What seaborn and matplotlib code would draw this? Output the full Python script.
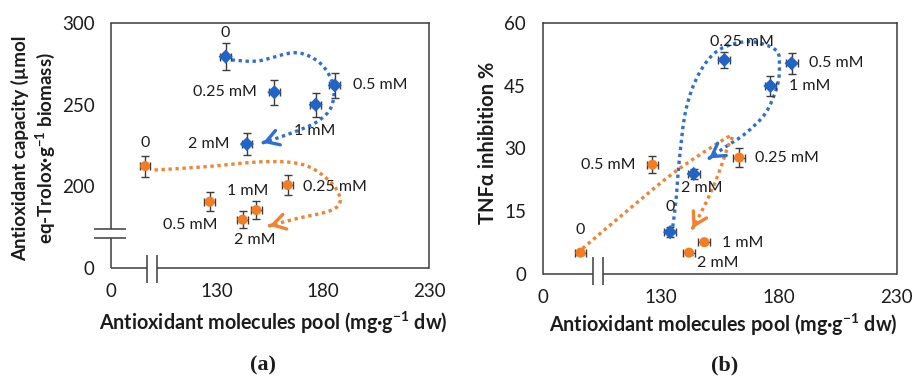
import numpy as np
import pandas as pd
import matplotlib
matplotlib.use("Agg")
import matplotlib.pyplot as plt
import seaborn as sns
from matplotlib.path import Path
from matplotlib.patches import PathPatch

# ---------------- data ----------------
concentrations = ["0", "0.25 mM", "0.5 mM", "1 mM", "2 mM"]
pool_blue = [134.0, 157.0, 185.5, 176.5, 144.0]
pool_orange = [96.0, 163.3, 126.5, 148.5, 142.0]
pool_err_blue = [2.5, 2.5, 2.5, 2.5, 2.5]
pool_err_orange = [2.5, 2.5, 2.5, 2.5, 2.5]
capacity_blue = [279.4, 257.6, 261.8, 250.0, 225.9]
capacity_orange = [212.4, 200.8, 190.6, 185.5, 179.6]
capacity_err_blue = [8.3, 7.8, 7.9, 7.3, 6.8]
capacity_err_orange = [6.4, 5.9, 5.8, 5.4, 5.4]
tnf_blue = [10.0, 51.1, 50.3, 44.9, 23.9]
tnf_orange = [5.1, 27.8, 26.1, 7.6, 5.1]
tnf_err_blue = [1.2, 2.0, 2.5, 2.3, 1.1]
tnf_err_orange = [0.5, 2.3, 2.1, 0.5, 0.5]

x_ticks = [80, 130, 180, 230]
x_tick_labels = ["0", "130", "180", "230"]
cap_ticks = [150, 200, 250, 300]
cap_tick_labels = ["0", "200", "250", "300"]
tnf_ticks = [0, 15, 30, 45, 60]
tnf_tick_labels = ["0", "15", "30", "45", "60"]

# ---------------- styling / layout ----------------
BLUE = "#2264C6"
ORANGE = "#F47C22"
BLUE_LINE = "#2E6FD6"
ORANGE_LINE = "#F5822E"
DARK = "#3c3c3c"
TXT = "#1c1c1c"
FONT = "Lato"

sns.set_theme(style="white")
plt.rcParams["font.family"] = [FONT, "DejaVu Sans"]
plt.rcParams["mathtext.fontset"] = "custom"
plt.rcParams["mathtext.rm"] = FONT
plt.rcParams["mathtext.bf"] = FONT + ":bold"

# label offsets (pixels) per panel
offs_a_blue = [(0, 24), (-49, 0), (45, 0), (-1, -26), (-38, 0)]
offs_a_orange = [(0, 23), (47, -2), (-20, -23), (-9, 19), (12, -20)]
offs_b_blue = [(0, 25), (18, 18), (45, 0), (39, 0), (8, -14)]
offs_b_orange = [(0, 23), (48, 0), (-44, 0), (38, -1), (29, -10)]

# dotted guide curves (annotation paths, data coords)
curve_a_blue = [(136.8, 277.4), (149.3, 276.8), (167.1, 281.8), (178.7, 275.3), (184.7, 262.1),
                (183.9, 248.8), (177.2, 239.6), (164.8, 232.5), (151.6, 226.7)]
curve_a_orange = [(100.4, 210.0), (124.4, 212.0), (152.4, 215.1), (171.0, 213.1), (183.4, 202.8),
                  (188.1, 191.6), (183.4, 185.1), (167.9, 180.4), (154.7, 175.9)]
curve_b_blue = [(135.1, 11.3), (136.5, 17.7), (137.9, 27.2), (140.7, 39.2), (146.3, 47.9), (154.7, 53.5),
                (167.4, 55.5), (178.7, 53.5), (180.3, 49.5), (179.3, 44.7), (174.4, 38.4), (166.0, 33.6),
                (157.6, 30.4), (150.5, 27.6)]
curve_b_orange = [(96.9, 6.1), (115.4, 14.9), (135.1, 24.0), (151.9, 30.4), (160.1, 33.0), (158.2, 30.0),
                  (154.0, 23.2), (148.4, 16.1), (143.5, 10.9)]


def draw_curve(ax, pts, color):
    P = np.asarray(pts, dtype=float)
    n = len(P)
    verts = [P[0]]
    codes = [Path.MOVETO]
    last_c2 = None
    for i in range(n - 1):
        p0 = P[i - 1] if i > 0 else P[i]
        p1, p2 = P[i], P[i + 1]
        p3 = P[i + 2] if i + 2 < n else P[i + 1]
        c1 = p1 + (p2 - p0) / 6.0
        c2 = p2 - (p3 - p1) / 6.0
        verts += [c1, c2, p2]
        codes += [Path.CURVE4] * 3
        last_c2 = c2
    ax.add_patch(PathPatch(Path(verts, codes), fill=False, edgecolor=color, lw=2.4,
                           linestyle=(0, (1, 1.1)), capstyle="butt", zorder=1.5))
    end = P[-1]
    start = end - (end - last_c2) * 0.04
    ax.annotate("", xy=end, xytext=start,
                arrowprops=dict(arrowstyle="->,head_length=0.75,head_width=0.45", color=color,
                                lw=2.4, shrinkA=0, shrinkB=0, mutation_scale=12), zorder=1.6)


def draw_panel(ax, yb, yo, yeb, yeo, offs_b, offs_o):
    df = pd.DataFrame({
        "pool": pool_blue + pool_orange,
        "value": yb + yo,
        "series": ["blue"] * len(pool_blue) + ["orange"] * len(pool_orange),
    })
    ax.errorbar(pool_blue, yb, xerr=pool_err_blue, yerr=yeb, fmt="none", ecolor=DARK,
                elinewidth=1.0, capsize=3.2, capthick=1.0, zorder=2)
    ax.errorbar(pool_orange, yo, xerr=pool_err_orange, yerr=yeo, fmt="none", ecolor=DARK,
                elinewidth=1.0, capsize=3.2, capthick=1.0, zorder=2)
    sns.scatterplot(data=df, x="pool", y="value", hue="series", style="series",
                    palette={"blue": BLUE, "orange": ORANGE},
                    markers={"blue": "D", "orange": "o"}, s=52, linewidth=0,
                    legend=False, ax=ax, zorder=3)
    for x, y, lab, (dx, dy) in zip(pool_blue, yb, concentrations, offs_b):
        ax.annotate(lab, xy=(x, y), xytext=(dx, dy), textcoords="offset pixels",
                    ha="center", va="center", fontsize=11.5, color=TXT, zorder=4)
    for x, y, lab, (dx, dy) in zip(pool_orange, yo, concentrations, offs_o):
        ax.annotate(lab, xy=(x, y), xytext=(dx, dy), textcoords="offset pixels",
                    ha="center", va="center", fontsize=11.5, color=TXT, zorder=4)
    ax.set_xlim(80, 230)
    ax.set_xticks(x_ticks)
    ax.set_xticklabels(x_tick_labels)
    ax.tick_params(axis="both", direction="in", length=3.5, width=1.0, color=DARK,
                   labelsize=13.5, labelcolor=TXT)
    ax.tick_params(axis="x", pad=11)
    ax.tick_params(axis="y", pad=12)
    for sp in ax.spines.values():
        sp.set_color(DARK)
        sp.set_linewidth(1.1)
    ax.set_xlabel("Antioxidant molecules pool (mg·g$^{\\mathbf{-1}}$ dw)", fontsize=14.2,
                  fontweight="bold", color=TXT, va="center")


def seg(ax, xs, ys):
    ax.plot(xs, ys, transform=ax.transAxes, color=DARK, lw=1.1, clip_on=False,
            solid_capstyle="butt", zorder=5)


fig = plt.figure(figsize=(9.13, 3.76), dpi=100)
fig.patch.set_facecolor("white")
axa = fig.add_axes([0.1219, 0.2872, 0.3480, 0.6516])
axb = fig.add_axes([0.5944, 0.2713, 0.3877, 0.6683])

# ---- panel (a) ----
draw_panel(axa, capacity_blue, capacity_orange, capacity_err_blue, capacity_err_orange,
           offs_a_blue, offs_a_orange)
draw_curve(axa, curve_a_blue, BLUE_LINE)
draw_curve(axa, curve_a_orange, ORANGE_LINE)
axa.set_ylim(150, 300)
axa.set_yticks(cap_ticks)
axa.set_yticklabels(cap_tick_labels)
axa.set_ylabel("Antioxidant capacity (µmol\neq-Trolox·g$^{\\mathbf{-1}}$ biomass)", fontsize=13.5,
               fontweight="bold", color=TXT, va="center", linespacing=1.2)
axa.yaxis.set_label_coords(-0.243, 0.49)
axa.xaxis.set_label_coords(0.51, -0.226)
axa.spines["left"].set_visible(False)
axa.spines["bottom"].set_visible(False)
seg(axa, [0, 0], [1, 0.159])
seg(axa, [0, 0], [0.122, 0])
seg(axa, [-0.054, 0.046], [0.159, 0.159])
seg(axa, [-0.054, 0.046], [0.122, 0.122])
seg(axa, [0, 0.111], [0, 0])
seg(axa, [0.143, 1], [0, 0])
seg(axa, [0.111, 0.111], [0.053, -0.061])
seg(axa, [0.143, 0.143], [0.053, -0.061])

# ---- panel (b) ----
draw_panel(axb, tnf_blue, tnf_orange, tnf_err_blue, tnf_err_orange,
           offs_b_blue, offs_b_orange)
draw_curve(axb, curve_b_blue, BLUE_LINE)
draw_curve(axb, curve_b_orange, ORANGE_LINE)
axb.set_ylim(0, 60)
axb.set_yticks(tnf_ticks)
axb.set_yticklabels(tnf_tick_labels)
axb.set_ylabel("TNFα inhibition %", fontsize=14.5, fontweight="bold", color=TXT, va="center")
axb.yaxis.set_label_coords(-0.1545, 0.523)
axb.xaxis.set_label_coords(0.51, -0.203)
axb.spines["bottom"].set_visible(False)
seg(axb, [0, 0.141], [0, 0])
seg(axb, [0.169, 1], [0, 0])
seg(axb, [0.141, 0.141], [0.069, -0.044])
seg(axb, [0.169, 0.169], [0.069, -0.044])

fig.text(263 / 913, 1 - 365 / 376, "(a)", ha="center", va="center", fontsize=16,
         fontweight="bold", family="Liberation Serif", color=TXT)
fig.text(725 / 913, 1 - 365 / 376, "(b)", ha="center", va="center", fontsize=16,
         fontweight="bold", family="Liberation Serif", color=TXT)

fig.savefig("out.png", dpi=100, facecolor="white")
